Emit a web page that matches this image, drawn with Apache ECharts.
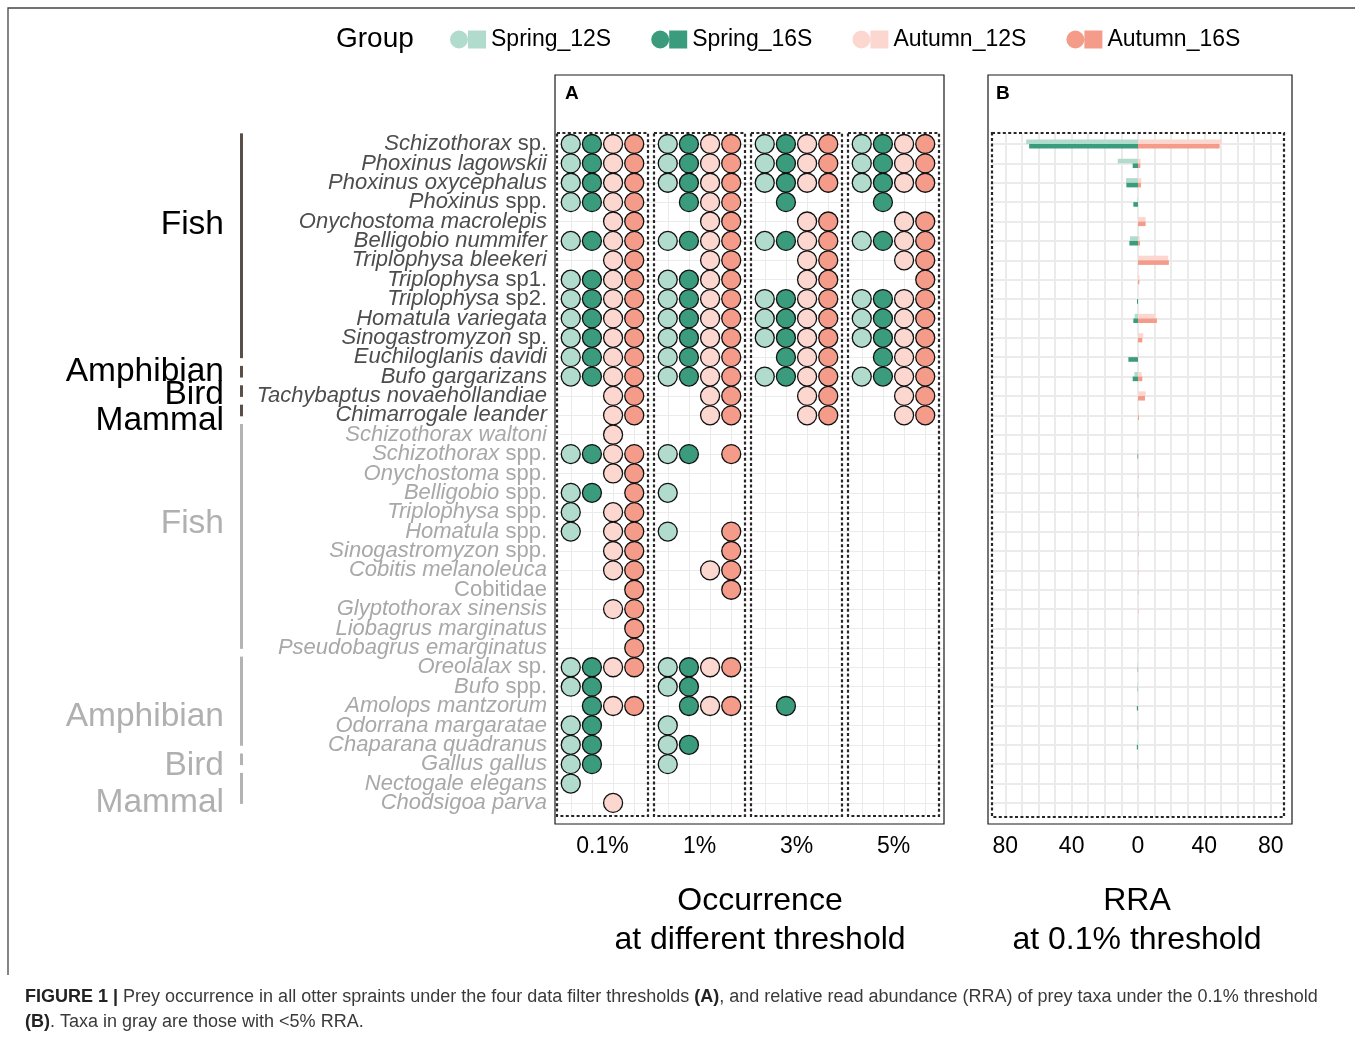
<!DOCTYPE html>
<html>
<head>
<meta charset="utf-8">
<script src="https://cdn.jsdelivr.net/npm/echarts@6/dist/echarts.min.js"></script>
<style>
  html, body { margin: 0; padding: 0; background: #fff; }
  #chart { width: 1355px; height: 1039px; }
</style>
</head>
<body>
<div id="chart"></div>
<script>
// ---- data -------------------------------------------------------------
const taxa = [
  'Schizothorax sp.', 'Phoxinus lagowskii', 'Phoxinus oxycephalus', 'Phoxinus spp.',
  'Onychostoma macrolepis', 'Belligobio nummifer', 'Triplophysa bleekeri', 'Triplophysa sp1.',
  'Triplophysa sp2.', 'Homatula variegata', 'Sinogastromyzon sp.', 'Euchiloglanis davidi',
  'Bufo gargarizans', 'Tachybaptus novaehollandiae', 'Chimarrogale leander',
  'Schizothorax waltoni', 'Schizothorax spp.', 'Onychostoma spp.', 'Belligobio spp.',
  'Triplophysa spp.', 'Homatula spp.', 'Sinogastromyzon spp.', 'Cobitis melanoleuca',
  'Cobitidae', 'Glyptothorax sinensis', 'Liobagrus marginatus', 'Pseudobagrus emarginatus',
  'Oreolalax sp.', 'Bufo spp.', 'Amolops mantzorum', 'Odorrana margaratae',
  'Chaparana quadranus', 'Gallus gallus', 'Nectogale elegans', 'Chodsigoa parva'
];
const groups = ['Spring_12S', 'Spring_16S', 'Autumn_12S', 'Autumn_16S'];
const thresholds = ['0.1%', '1%', '3%', '5%'];

// taxonomic classes (1-based first/last taxon row); minor = taxa with <5% RRA
const classNames = ['Fish', 'Amphibian', 'Bird', 'Mammal', 'Fish', 'Amphibian', 'Bird', 'Mammal'];
const classFirst = [1, 13, 14, 15, 16, 28, 33, 34];
const classLast  = [12, 13, 14, 15, 27, 32, 33, 35];
const classMinor = [0, 0, 0, 0, 1, 1, 1, 1];

// occurrence (1 = detected) per taxon, threshold 0.1%
const occ01_S12 = [1,1,1,1,0,1,0,1,1,1,1,1,1,0,0, 0,1,0,1,1,1,0,0,0,0,0,0,1,1,0,1,1,1,1,0];
const occ01_S16 = [1,1,1,1,0,1,0,1,1,1,1,1,1,0,0, 0,1,0,1,0,0,0,0,0,0,0,0,1,1,1,1,1,1,0,0];
const occ01_A12 = [1,1,1,1,1,1,1,1,1,1,1,1,1,1,1, 1,1,1,0,1,1,1,1,0,1,0,0,1,0,1,0,0,0,0,1];
const occ01_A16 = [1,1,1,1,1,1,1,1,1,1,1,1,1,1,1, 0,1,1,1,1,1,1,1,1,1,1,1,1,0,1,0,0,0,0,0];
// threshold 1%
const occ1_S12 = [1,1,1,0,0,1,0,1,1,1,1,1,1,0,0, 0,1,0,1,0,1,0,0,0,0,0,0,1,1,0,1,1,1,0,0];
const occ1_S16 = [1,1,1,1,0,1,0,1,1,1,1,1,1,0,0, 0,1,0,0,0,0,0,0,0,0,0,0,1,1,1,0,1,0,0,0];
const occ1_A12 = [1,1,1,1,1,1,1,1,1,1,1,1,1,1,1, 0,0,0,0,0,0,0,1,0,0,0,0,1,0,1,0,0,0,0,0];
const occ1_A16 = [1,1,1,1,1,1,1,1,1,1,1,1,1,1,1, 0,1,0,0,0,1,1,1,1,0,0,0,1,0,1,0,0,0,0,0];
// threshold 3%
const occ3_S12 = [1,1,1,0,0,1,0,0,1,1,1,0,1,0,0, 0,0,0,0,0,0,0,0,0,0,0,0,0,0,0,0,0,0,0,0];
const occ3_S16 = [1,1,1,1,0,1,0,0,1,1,1,1,1,0,0, 0,0,0,0,0,0,0,0,0,0,0,0,0,0,1,0,0,0,0,0];
const occ3_A12 = [1,1,1,0,1,1,1,1,1,1,1,1,1,1,1, 0,0,0,0,0,0,0,0,0,0,0,0,0,0,0,0,0,0,0,0];
const occ3_A16 = [1,1,1,0,1,1,1,1,1,1,1,1,1,1,1, 0,0,0,0,0,0,0,0,0,0,0,0,0,0,0,0,0,0,0,0];
// threshold 5%
const occ5_S12 = [1,1,1,0,0,1,0,0,1,1,1,0,1,0,0, 0,0,0,0,0,0,0,0,0,0,0,0,0,0,0,0,0,0,0,0];
const occ5_S16 = [1,1,1,1,0,1,0,0,1,1,1,1,1,0,0, 0,0,0,0,0,0,0,0,0,0,0,0,0,0,0,0,0,0,0,0];
const occ5_A12 = [1,1,1,0,1,1,1,0,1,1,1,1,1,1,1, 0,0,0,0,0,0,0,0,0,0,0,0,0,0,0,0,0,0,0,0];
const occ5_A16 = [1,1,1,0,1,1,1,1,1,1,1,1,1,1,1, 0,0,0,0,0,0,0,0,0,0,0,0,0,0,0,0,0,0,0,0];

// relative read abundance (%) at the 0.1% threshold
const rraS12 = [67.4,12.2,7.2,0.3,0,4.8,0,0,0,2.0,0,0,2.2,0,0, 0,0.2,0,0.1,0.1,0.1,0,0,0,0,0,0,0.2,0.2,0,0.1,0.2,0.1,0.1,0];
const rraS16 = [65.6,3.2,7.0,2.8,0,5.2,0,0,0.6,2.8,0,5.8,3.2,0,0, 0,0.3,0,0.1,0,0,0,0,0,0,0,0,0.2,0.2,0.7,0.1,0.7,0.1,0,0];
const rraA12 = [50.6,1.6,2.0,0,4.6,1.0,18.2,0.8,0,10.4,3.2,0.6,2.2,4.6,0.5, 0.1,0.1,0.2,0,0.2,0.1,0.2,0.2,0,0.2,0,0,0.1,0,0.1,0,0,0,0,0.1];
const rraA16 = [49.2,1.4,1.8,0,4.6,1.2,18.6,0.8,0,11.4,2.6,0,2.6,4.2,0.6, 0,0.2,0.2,0.1,0.2,0.2,0.2,0.2,0.2,0.2,0.1,0.1,0.1,0,0.1,0,0,0,0,0];

// ---- layout & styles ----------------------------------------------------
const FONT = '"Liberation Sans", Arial, Helvetica, sans-serif';
const colors = ['#b1dbcd', '#3a9b7d', '#fcd7cf', '#f49b89'];
const GRID_LINE = '#ebebeb';
const L = {
  rowTop: 144, rowStep: 19.38,
  boxTop: 133, boxBottom: 816,
  panelA: { x: 555, y: 75, w: 389, h: 749 },
  panelB: { x: 988, y: 75, w: 304, h: 749 },
  boxA: { left: 557, step: 97, w: 91, pad: 0.65 },
  boxB: { left: 992, w: 292, top: 133, bottom: 817 },
  rraRange: 88,
  bracketX: 240, classLabelX: 224,
  classLabelDy: [-26, -5, -1, 5, -18, 11, 2, 10]
};
const nRows = taxa.length;
const rowBottom = L.rowTop + (nRows - 1) * L.rowStep;
const rowY = r => L.rowTop + (r - 1) * L.rowStep;
const yMin = 1 - (L.rowTop - L.boxTop) / L.rowStep;
const yMax = nRows + (L.boxBottom - rowBottom) / L.rowStep;

const occurrence = [
  [occ01_S12, occ01_S16, occ01_A12, occ01_A16],
  [occ1_S12, occ1_S16, occ1_A12, occ1_A16],
  [occ3_S12, occ3_S16, occ3_A12, occ3_A16],
  [occ5_S12, occ5_S16, occ5_A12, occ5_A16]
];
const rra = [rraS12, rraS16, rraA12, rraA16];

function isMinor(rowIdx) {
  const r = rowIdx + 1;
  for (let k = 0; k < classFirst.length; k++) {
    if (r >= classFirst[k] && r <= classLast[k]) return classMinor[k] === 1;
  }
  return false;
}
function taxonLabel(name, idx) {
  const t = isMinor(idx) ? 'l' : 'd';
  return name.split(' ').map(w =>
    (/^sp/.test(w) || /idae$/.test(w)) ? '{' + t + 'n|' + w + '}' : '{' + t + 'i|' + w + '}'
  ).join('{' + t + 'n| }');
}

// ---- grids / axes ---------------------------------------------------------
const grid = [], xAxis = [], yAxis = [], series = [];

// panel A: row lines + taxon labels
grid.push({ left: L.panelA.x, top: L.rowTop, width: L.panelA.w, height: rowBottom - L.rowTop });
xAxis.push({ gridIndex: 0, type: 'value', show: false, min: 0, max: 1 });
const TAXON_SIZE = 22;
const labelRich = {
  di: { fontFamily: FONT, fontSize: TAXON_SIZE, fontStyle: 'italic', color: '#4d4d4d', lineHeight: 21 },
  dn: { fontFamily: FONT, fontSize: TAXON_SIZE, color: '#4d4d4d', lineHeight: 21 },
  li: { fontFamily: FONT, fontSize: TAXON_SIZE, fontStyle: 'italic', color: '#a8a8a8', lineHeight: 21 },
  ln: { fontFamily: FONT, fontSize: TAXON_SIZE, color: '#a8a8a8', lineHeight: 21 }
};
yAxis.push({
  gridIndex: 0, type: 'category', data: taxa, inverse: true, boundaryGap: false,
  axisLine: { show: false }, axisTick: { show: false },
  splitLine: { show: true, interval: 0, lineStyle: { color: GRID_LINE, width: 1 } },
  axisLabel: { interval: 0, margin: 8, formatter: taxonLabel, rich: labelRich }
});

// panel A: one facet per threshold
thresholds.forEach((th, t) => {
  const gi = grid.length;
  grid.push({ left: L.boxA.left + t * L.boxA.step, top: L.boxTop, width: L.boxA.w, height: L.boxBottom - L.boxTop });
  xAxis.push({
    gridIndex: gi, type: 'value', min: -L.boxA.pad, max: groups.length - 1 + L.boxA.pad,
    minInterval: 1, maxInterval: 1,
    axisLine: { show: false }, axisTick: { show: false }, axisLabel: { show: false },
    splitLine: { show: true, showMinLine: false, showMaxLine: false, lineStyle: { color: GRID_LINE, width: 1 } },
    name: th, nameLocation: 'middle', nameGap: 19,
    nameTextStyle: { fontFamily: FONT, fontSize: 23, color: '#000' }
  });
  yAxis.push({ gridIndex: gi, type: 'value', inverse: true, min: yMin, max: yMax, show: false });
  groups.forEach((g, k) => {
    const pts = [];
    occurrence[t][k].forEach((v, r) => { if (v) pts.push([k, r + 1]); });
    series.push({
      type: 'scatter', name: g, xAxisIndex: gi, yAxisIndex: gi, data: pts,
      symbol: 'circle', symbolSize: 19, silent: true, z: 3,
      itemStyle: { color: colors[k], borderColor: '#111', borderWidth: 1.3, opacity: 1 }
    });
  });
});

// panel B: bars (row lines come from the category axis)
const giBars = grid.length;
grid.push({ left: L.boxB.left, top: L.rowTop, width: L.boxB.w, height: rowBottom - L.rowTop });
xAxis.push({ gridIndex: giBars, type: 'value', min: -L.rraRange, max: L.rraRange, show: false });
yAxis.push({
  gridIndex: giBars, type: 'category', data: taxa, inverse: true, boundaryGap: false,
  axisLine: { show: false }, axisTick: { show: false }, axisLabel: { show: false, interval: 0 },
  splitLine: { show: true, interval: 0, lineStyle: { color: GRID_LINE, width: 2 } }
});
groups.forEach((g, k) => {
  const spring = k < 2;
  series.push({
    type: 'bar', name: g, xAxisIndex: giBars, yAxisIndex: giBars,
    stack: k % 2 === 0 ? '12S' : '16S',
    data: rra[k].map(v => spring ? -v : v),
    barWidth: 4.6, barGap: '0%', silent: true, z: 3,
    itemStyle: { color: colors[k] }
  });
});

// panel B: vertical value lines over the full box + tick labels
const giBg = grid.length;
grid.push({ left: L.boxB.left, top: L.boxB.top, width: L.boxB.w, height: L.boxB.bottom - L.boxB.top });
xAxis.push({
  gridIndex: giBg, type: 'value', min: -L.rraRange, max: L.rraRange, minInterval: 10, maxInterval: 10,
  axisLine: { show: false }, axisTick: { show: false },
  splitLine: { show: true, showMinLine: false, showMaxLine: false, lineStyle: { color: GRID_LINE, width: 2 } },
  axisLabel: {
    margin: 18, fontFamily: FONT, fontSize: 23, color: '#000',
    showMinLabel: false, showMaxLabel: false,
    formatter: v => (Math.round(v) % 40 === 0 ? String(Math.abs(Math.round(v))) : '')
  }
});
yAxis.push({ gridIndex: giBg, type: 'value', min: 0, max: 1, show: false });

// ---- decorations -----------------------------------------------------------
const graphic = [];
const frame = (x, y, w, h) => ({
  type: 'rect', z: 20, silent: true, shape: { x, y, width: w, height: h },
  style: { fill: 'none', stroke: '#1a1a1a', lineWidth: 1.2 }
});
const dotted = (x, y, w, h) => ({
  type: 'rect', z: 19, silent: true, shape: { x, y, width: w, height: h },
  style: { fill: 'none', stroke: '#2a2525', lineWidth: 2.2, lineDash: [3, 2.4] }
});
graphic.push(frame(L.panelA.x, L.panelA.y, L.panelA.w, L.panelA.h));
graphic.push(frame(L.panelB.x, L.panelB.y, L.panelB.w, L.panelB.h));
thresholds.forEach((th, t) => {
  graphic.push(dotted(L.boxA.left + t * L.boxA.step, L.boxTop, L.boxA.w, L.boxBottom - L.boxTop));
});
graphic.push(dotted(L.boxB.left, L.boxB.top, L.boxB.w, L.boxB.bottom - L.boxB.top));

// panel tags
[['A', L.panelA.x + 10], ['B', L.panelB.x + 8]].forEach(([s, x]) => {
  graphic.push({ type: 'text', z: 20, silent: true,
    style: { text: s, x, y: 94, textVerticalAlign: 'middle', fill: '#000',
      font: 'bold 19px ' + FONT } });
});

// class brackets and labels
classNames.forEach((c, k) => {
  const y0 = rowY(classFirst[k]) - 0.55 * L.rowStep;
  const y1 = rowY(classLast[k]) + 0.05 * L.rowStep;
  const minor = classMinor[k] === 1;
  graphic.push({ type: 'rect', z: 20, silent: true,
    shape: { x: L.bracketX, y: y0, width: 3, height: y1 - y0 },
    style: { fill: minor ? '#b3b3b3' : '#5a4e49' } });
  const mid = (rowY(classFirst[k]) + rowY(classLast[k])) / 2 + L.classLabelDy[k];
  graphic.push({ type: 'text', z: 20, silent: true,
    style: { text: c, x: L.classLabelX, y: mid, textAlign: 'right', textVerticalAlign: 'middle',
      fill: minor ? '#b0b0b0' : '#000', font: '33.5px ' + FONT } });
});

// axis titles
graphic.push({ type: 'text', z: 20, silent: true,
  style: { text: 'Occurrence\nat different threshold', x: 760, y: 921, textAlign: 'center',
    textVerticalAlign: 'middle', lineHeight: 39, fill: '#000', font: '32px ' + FONT } });
graphic.push({ type: 'text', z: 20, silent: true,
  style: { text: 'RRA\nat 0.1% threshold', x: 1137, y: 921, textAlign: 'center',
    textVerticalAlign: 'middle', lineHeight: 39, fill: '#000', font: '32px ' + FONT } });

// figure border (top and left edges)
graphic.push({ type: 'polyline', z: 20, silent: true,
  shape: { points: [[8, 975], [8, 8], [1360, 8]] },
  style: { fill: 'none', stroke: '#444', lineWidth: 1.3 } });

// caption
const capRich = {
  b: { fontFamily: FONT, fontSize: 18, fontWeight: 'bold', fill: '#222' },
  n: { fontFamily: FONT, fontSize: 18, fill: '#3a3a3a' }
};
graphic.push({ type: 'text', z: 20, silent: true,
  style: { x: 25, y: 997, textVerticalAlign: 'middle', rich: capRich,
    text: '{b|FIGURE 1 |}{n| Prey occurrence in all otter spraints under the four data filter thresholds }{b|(A)}{n|, and relative read abundance (RRA) of prey taxa under the 0.1% threshold}' } });
graphic.push({ type: 'text', z: 20, silent: true,
  style: { x: 25, y: 1022, textVerticalAlign: 'middle', rich: capRich,
    text: '{b|(B)}{n|. Taxa in gray are those with <5% RRA.}' } });

// ---- chart -------------------------------------------------------------------
const chart = echarts.init(document.getElementById('chart'), null, { renderer: 'canvas' });
chart.setOption({
  animation: false,
  backgroundColor: '#fff',
  textStyle: { fontFamily: FONT },
  title: {
    text: 'Group', left: 331, top: 20,
    textStyle: { fontFamily: FONT, fontSize: 28, fontWeight: 'normal', color: '#000' }
  },
  legend: {
    data: groups, left: 445, top: 23, orient: 'horizontal',
    itemWidth: 36, itemHeight: 18, itemGap: 40, selectedMode: false,
    icon: 'path://M0,9A9,9,0,1,1,18,9A9,9,0,1,1,0,9ZM18,0L36,0L36,18L18,18Z',
    itemStyle: { borderWidth: 0 },
    textStyle: { fontFamily: FONT, fontSize: 23, color: '#000' }
  },
  grid, xAxis, yAxis, series, graphic
});
</script>
</body>
</html>
